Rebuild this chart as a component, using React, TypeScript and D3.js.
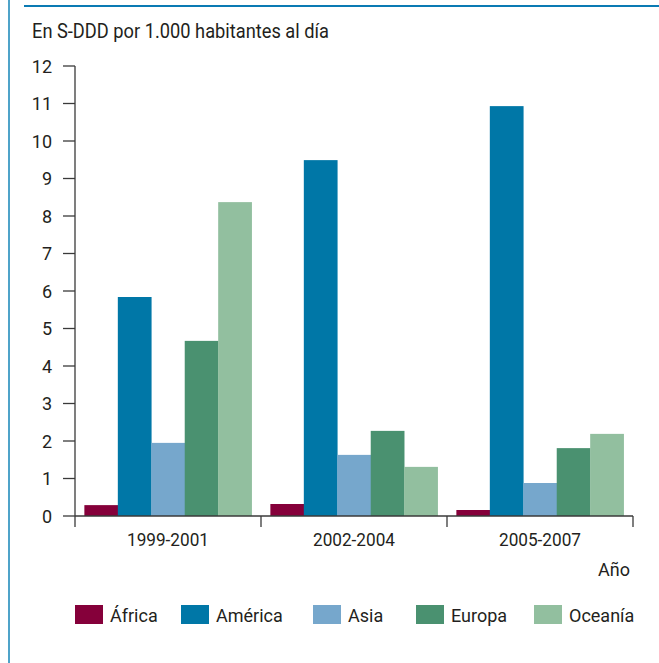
import { useEffect } from 'react';
import * as d3 from 'd3';

// Antibiotic consumption by region, S-DDD per 1,000 inhabitants per day.
const PERIODS = ['1999-2001', '2002-2004', '2005-2007'];
const REGIONS = ['África', 'América', 'Asia', 'Europa', 'Oceanía'];
const AFRICA = [0.29, 0.32, 0.16];
const AMERICA = [5.84, 9.49, 10.93];
const ASIA = [1.95, 1.63, 0.88];
const EUROPA = [4.67, 2.27, 1.81];
const OCEANIA = [8.37, 1.31, 2.19];
const Y_TICKS = [0, 1, 2, 3, 4, 5, 6, 7, 8, 9, 10, 11, 12];

const SERIES = [AFRICA, AMERICA, ASIA, EUROPA, OCEANIA];
const COLORS = ['#85003a', '#0077a7', '#76a7cc', '#4a9170', '#92bf9f'];

const W = 659;
const H = 663;
const FONT = 'Roboto, "Liberation Sans", sans-serif';
const TEXT = '#231f20';
const AXIS = '#3a3a3a';

export default function App() {
  useEffect(() => {
    document.body.style.margin = '0';
  }, []);

  const left = 75;
  const right = 633;
  const top = 66;
  const bottom = 516;

  const x0 = d3.scaleBand<string>().domain(PERIODS).range([left, right]).padding(0);
  const x1 = d3.scaleBand<string>()
    .domain(REGIONS)
    .range([0, x0.bandwidth()])
    .paddingInner(0)
    .paddingOuter(0.28);
  const y = d3.scaleLinear().domain([0, 12]).range([bottom, top]);

  const legendX = [75, 181, 313, 416, 534];

  return (
    <svg width={W} height={H} style={{ display: 'block', fontFamily: FONT }}>
      {/* frame */}
      <line x1={9} x2={9} y1={0} y2={H} stroke="#4fa3c9" strokeWidth={2} />
      <line x1={24} x2={W} y1={6} y2={6} stroke="#0a7ab3" strokeWidth={2} />

      <text x={32} y={38} fontSize={19.5} fill={TEXT} textLength={297} lengthAdjust="spacingAndGlyphs">
        En S-DDD por 1.000 habitantes al día
      </text>

      {/* bars */}
      {PERIODS.map((p, gi) => (
        <g key={p} transform={`translate(${x0(p)},0)`}>
          {REGIONS.map((r, si) => {
            const v = SERIES[si][gi];
            return (
              <rect
                key={r}
                x={x1(r)}
                y={y(v)}
                width={x1.bandwidth() + 0.3}
                height={y(0) - y(v)}
                fill={COLORS[si]}
              />
            );
          })}
        </g>
      ))}

      {/* y axis */}
      <line x1={left} x2={left} y1={top} y2={bottom} stroke={AXIS} strokeWidth={1.3} />
      {Y_TICKS.map((t) => (
        <g key={t}>
          <line x1={left - 12} x2={left} y1={y(t)} y2={y(t)} stroke={AXIS} strokeWidth={1.3} />
          <text x={52} y={y(t) + 6.5} fontSize={18} textAnchor="end" fill={TEXT}>{t}</text>
        </g>
      ))}

      {/* x axis */}
      <line x1={left} x2={right} y1={bottom} y2={bottom} stroke={AXIS} strokeWidth={1.3} />
      {[...PERIODS.map((p) => x0(p) as number), right].map((tx, i) => (
        <line key={i} x1={tx} x2={tx} y1={bottom} y2={bottom + 11} stroke={AXIS} strokeWidth={1.3} />
      ))}
      {PERIODS.map((p) => (
        <text
          key={p}
          x={(x0(p) as number) + x0.bandwidth() / 2}
          y={546}
          fontSize={18}
          textAnchor="middle"
          fill={TEXT}
          textLength={82}
          lengthAdjust="spacingAndGlyphs"
        >
          {p}
        </text>
      ))}
      <text x={630} y={576} fontSize={18} textAnchor="end" fill={TEXT}>Año</text>

      {/* legend */}
      {REGIONS.map((r, i) => (
        <g key={r}>
          <rect x={legendX[i]} y={605} width={28} height={19} fill={COLORS[i]} />
          <text x={legendX[i] + 35} y={622} fontSize={18} fill={TEXT}>{r}</text>
        </g>
      ))}
    </svg>
  );
}
